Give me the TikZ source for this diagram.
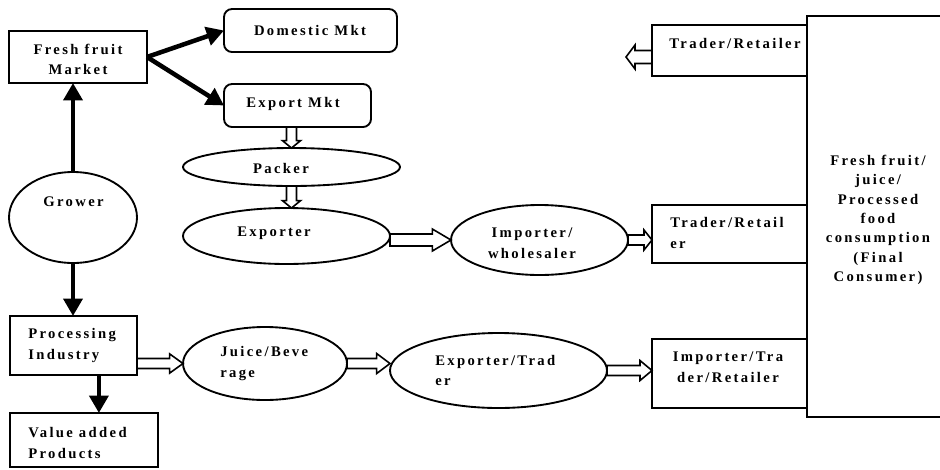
\documentclass[tikz,border=0pt]{standalone}
\usepackage{fontspec}
\setmainfont{Liberation Serif}[LetterSpace=16]
\usetikzlibrary{shapes.geometric,arrows.meta,calc}
\def\pxu{0.75pt}
\def\bs{4.5pt}\def\bw{8.25pt}\def\bh{12pt}
\tikzset{
  shaft/.code={\def\bs{#1}},
  headw/.code={\def\bw{#1}},
  headl/.code={\def\bh{#1}},
  sz/.style 2 args={minimum width=#1*\pxu, minimum height=#2*\pxu},
  bx/.style={draw, line width=1.4pt, rectangle, inner sep=0pt, outer sep=0pt},
  rbx/.style={bx, rounded corners=6pt},
  ell/.style={draw, line width=1.4pt, ellipse, inner sep=0pt, outer sep=0pt},
  lbl/.style={inner sep=0pt, font=\bfseries\fontsize{11}{15.5}\selectfont},
  tarr/.style={line width=3.4pt, -{Triangle[length=13pt,width=14pt]}},
  hol/.style={fill=white, line width=1.2pt, line join=miter},
  hr/.style={hol, to path={let \p1=(\tikztostart), \p2=(\tikztotarget) in
     (\x1,\y1+\bs) -- (\x2-\bh,\y1+\bs) -- (\x2-\bh,\y1+\bw) -- (\x2,\y1)
     -- (\x2-\bh,\y1-\bw) -- (\x2-\bh,\y1-\bs) -- (\x1,\y1-\bs) -- cycle}},
  hl/.style={hol, to path={let \p1=(\tikztostart), \p2=(\tikztotarget) in
     (\x1,\y1+\bs) -- (\x2+\bh,\y1+\bs) -- (\x2+\bh,\y1+\bw) -- (\x2,\y1)
     -- (\x2+\bh,\y1-\bw) -- (\x2+\bh,\y1-\bs) -- (\x1,\y1-\bs) -- cycle}},
  hd/.style={hol, to path={let \p1=(\tikztostart), \p2=(\tikztotarget) in
     (\x1-\bs,\y1) -- (\x1-\bs,\y2+\bh) -- (\x1-\bw,\y2+\bh) -- (\x1,\y2)
     -- (\x1+\bw,\y2+\bh) -- (\x1+\bs,\y2+\bh) -- (\x1+\bs,\y1) -- cycle}}
}
\begin{document}
\begin{tikzpicture}[x=0.75pt,y=-0.75pt]
\fill[white] (0,0) rectangle (940,469);
\useasboundingbox (0,0) rectangle (940,469);
\clip (0,0) rectangle (940,469);

% shapes
\node[bx, sz={138}{52}] (ffm) at (78,57) {};
\node[rbx, sz={173}{43}] (dom) at (310.5,30.5) {};
\node[rbx, sz={147}{43}] (exp) at (297.5,105.5) {};
\node[ell, sz={217}{38}] (packer) at (291.5,167) {};
\node[ell, sz={207}{56}] (exporter) at (286.5,236) {};
\node[ell, sz={177}{70}] (importer) at (539.5,240) {};
\node[bx, sz={155}{51}] (tr1) at (729.5,50.5) {};
\node[bx, sz={155}{58}] (tr2) at (729.5,234) {};
\node[bx, sz={155}{69}] (itr) at (729.5,373.5) {};
\node[bx, sz={143}{401}] (big) at (878.5,216.5) {};
\node[ell, sz={128}{91}] (grower) at (73,217.5) {};
\node[bx, sz={127}{59}] (proc) at (73.5,345.5) {};
\node[bx, sz={148}{54}] (value) at (84,440) {};
\node[ell, sz={164}{73}] (juice) at (265,363.5) {};
\node[ell, sz={217}{75}] (exptr) at (498.5,370.5) {};
\coordinate (tr1out) at (626,57);
\coordinate (pv) at ($(proc.south west)!0.7!(proc.south east)$);

% texts
\node[lbl, align=center] (tffm) at (78,59.5) {Fresh fruit\\Market};
\node[lbl] (tdom) at (310,30) {Domestic Mkt};
\node[lbl] (texp) at (293,104) {Export Mkt};
\node[lbl] (tpacker) at (281,168) {Packer};
\node[lbl] (texporter) at (274,233) {Exporter};
\node[lbl, align=center] (timporter) at (532,243) {Importer/\\wholesaler};
\node[lbl] (ttr1) at (735,43) {Trader/Retailer};
\node[lbl, align=left, anchor=west] (ttr2) at (670,233) {Trader/Retail\\er};
\node[lbl, align=center] (titr) at (728,367.5) {Importer/Tra\\der/Retailer};
\node[lbl, align=center, font=\bfseries\fontsize{11}{14.5}\selectfont] (tbig) at (878,220)
  {Fresh fruit/\\juice/\\Processed\\food\\consumption\\(Final\\Consumer)};
\node[lbl] (tgrower) at (73.5,202) {Grower};
\node[lbl, align=left, anchor=west] (tproc) at (28,345.5) {Processing\\Industry};
\node[lbl, align=left, anchor=west] (tvalue) at (28,443) {Value added\\Products};
\node[lbl, align=left, anchor=west] (tjuice) at (220,363.5) {Juice/Beve\\rage};
\node[lbl, align=left, anchor=west] (texptr) at (435,370.5) {Exporter/Trad\\er};

% solid arrows
\draw[tarr] (grower.north) -- (grower.north |- ffm.south);
\draw[tarr] (grower.south) -- (grower.south |- proc.north);
\draw[tarr] (ffm.east) -- (dom.west);
\draw[tarr] (ffm.east) -- (exp.west);
\draw[tarr] (pv) -- (pv |- value.north);

% hollow arrows
\draw[hd, shaft=3.75pt, headw=6.75pt, headl=5.5pt] (packer.north |- exp.south) to (packer.north);
\draw[hd, shaft=3.75pt, headw=6.75pt, headl=5.5pt] (packer.south) to (packer.south |- exporter.north);
\draw[hr, shaft=4.5pt, headw=8.25pt, headl=14pt] (exporter.east |- importer.west) to (importer.west);
\draw[hr, shaft=3.75pt, headw=7.5pt, headl=6pt] (importer.east) to (tr2.west |- importer.east);
\draw[hl, shaft=4.9pt, headw=9pt, headl=6.75pt] (tr1.west |- tr1out) to (tr1out);
\draw[hr, shaft=3.75pt, headw=7.2pt, headl=10pt] (proc.east |- juice.west) to (juice.west);
\draw[hr, shaft=3.75pt, headw=7.5pt, headl=10pt] (juice.east) to (exptr.west |- juice.east);
\draw[hr, shaft=3.75pt, headw=7.5pt, headl=9pt] (exptr.east) to (itr.west |- exptr.east);
\end{tikzpicture}
\end{document}
